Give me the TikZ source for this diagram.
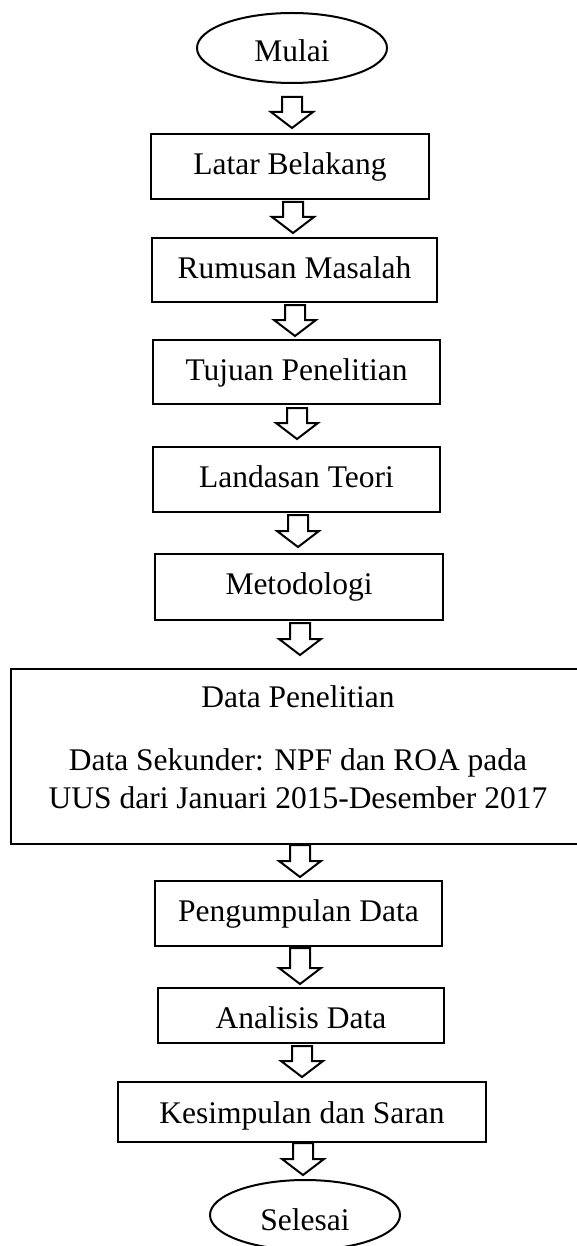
\documentclass[tikz,border=0pt]{standalone}
\usepackage{fontspec}
\setmainfont{Liberation Serif}
\usetikzlibrary{shapes.geometric}
\newcommand\flowfont{\fontsize{31.5}{38}\selectfont}
\tikzset{
  boxnode/.style={draw, line width=2.3pt, rectangle, inner sep=0pt, anchor=north,
    text height=40pt, text depth=25pt, font=\flowfont},
  ovalnode/.style={draw, line width=2pt, ellipse, inner sep=0pt,
    minimum width=190pt, minimum height=70pt, text height=28pt, text depth=0pt, font=\flowfont},
  txt/.style={inner sep=0pt, anchor=base, font=\flowfont},
  blk/.style={draw, line width=2pt, line join=miter, fill=white}
}
% x, y of stem top, y of tip
\newcommand\hollowarrow[3]{%
  \draw[blk] (#1-10,#2) -- (#1+10,#2) -- (#1+10,#3-16) -- (#1+21,#3-16)
    -- (#1,#3) -- (#1-21,#3-16) -- (#1-10,#3-16) -- cycle;}
\begin{document}
\begin{tikzpicture}[x=1pt,y=-1pt]
  \useasboundingbox (0,0) rectangle (577,1246);
  \clip (0,0) rectangle (577,1246);

  \node[ovalnode] (mulai) at (292,48) {Mulai};
  \node[boxnode, minimum width=278pt] (latar) at (290,133) {Latar Belakang};
  \node[boxnode, minimum width=285pt, text depth=24pt] (rumusan) at (294.5,237) {Rumusan Masalah};
  \node[boxnode, minimum width=287pt, text depth=24pt] (tujuan) at (296.5,339) {Tujuan Penelitian};
  \node[boxnode, minimum width=287pt] (landasan) at (296.5,446) {Landasan Teori};
  \node[boxnode, minimum width=288pt, text depth=26pt] (metodologi) at (299,553) {Metodologi};

  \node[draw, line width=2.3pt, rectangle, inner sep=0pt, anchor=north west,
        minimum width=580pt, minimum height=175pt] (data) at (10,668) {};
  \node[txt] (datajudul) at (298,707) {Data Penelitian};
  \node[txt] (datasatu) at (298,770) {Data Sekunder: NPF dan ROA pada};
  \node[txt] (datadua) at (298,808) {UUS dari Januari 2015-Desember 2017};

  \node[boxnode, minimum width=287pt] (pengumpulan) at (298.5,880) {Pengumpulan Data};
  \node[boxnode, minimum width=286pt, text depth=15pt] (analisis) at (301,987) {Analisis Data};
  \node[boxnode, minimum width=368pt, text height=41pt, text depth=19pt] (kesimpulan) at (302,1081) {Kesimpulan dan Saran};
  \node[ovalnode, text height=30pt] (selesai) at (305,1215) {Selesai};

  \hollowarrow{292}{97}{128}
  \hollowarrow{293}{202}{233}
  \hollowarrow{295}{305}{336}
  \hollowarrow{297}{408}{439}
  \hollowarrow{298}{515}{547}
  \hollowarrow{300}{623}{655}
  \hollowarrow{300}{845}{877}
  \hollowarrow{300}{948}{984}
  \hollowarrow{302}{1046}{1077}
  \hollowarrow{303}{1143}{1175}
\end{tikzpicture}
\end{document}
